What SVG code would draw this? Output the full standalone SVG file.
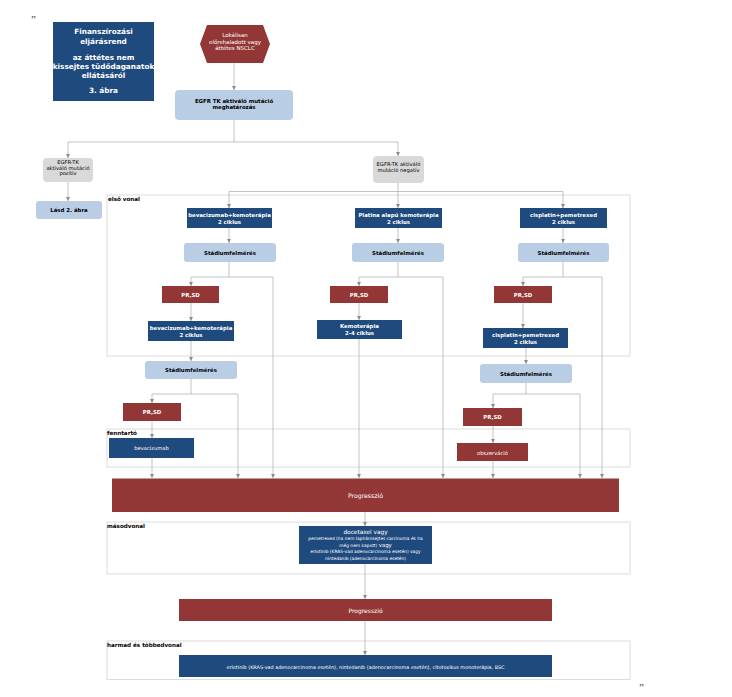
<svg xmlns="http://www.w3.org/2000/svg" width="732" height="697" viewBox="0 0 732 697">
<defs>
<marker id="arr" viewBox="0 0 6 6" refX="6" refY="3" markerWidth="4" markerHeight="4" orient="auto" markerUnits="userSpaceOnUse">
<path d="M0,0 L6,3 L0,6 Z" fill="#8c8c8c"/>
</marker>
<style>
text{font-family:"DejaVu Sans","Verdana",sans-serif;text-anchor:middle}
.frame{fill:none;stroke:#dcdcdc;stroke-width:1}
.con path{fill:none;stroke:#b4b4b4;stroke-width:0.8}
.blue{fill:#1f4a7e}
.red{fill:#923735}
.lb{fill:#b9cde5}
.gr{fill:#d9d9d9}
.w{fill:#ffffff;font-size:5.4px;font-weight:bold}
.k{fill:#000000;font-size:5.4px;font-weight:bold}
.lbl{fill:#000000;font-size:5.6px;font-weight:bold;text-anchor:start}
.t{fill:#ffffff;font-size:7.3px;font-weight:bold}
.wn{fill:#ffffff;font-size:5.2px}
.q{font-family:"Liberation Serif",serif;font-size:11px;fill:#333333;text-anchor:start}
</style>
</defs>
<rect width="732" height="697" fill="#ffffff"/>
<text class="q" x="31" y="23">”</text>
<text class="q" x="639" y="691">”</text>

<g id="frames">
<rect class="frame" x="107" y="195" width="523" height="161"/>
<rect class="frame" x="107" y="429" width="523" height="38"/>
<rect class="frame" x="107" y="522" width="523" height="52"/>
<rect class="frame" x="107" y="641" width="523" height="38.5"/>
<text class="lbl" x="108" y="200.5">első vonal</text>
<text class="lbl" x="107" y="435">fenntartó</text>
<text class="lbl" x="107" y="528">másodvonal</text>
<text class="lbl" x="107" y="647">harmad és többedvonal</text>
</g>

<g id="title">
<rect class="blue" x="53" y="22" width="101" height="79"/>
<text class="t" x="103.5" y="34">Finanszírozási</text>
<text class="t" x="103.5" y="44">eljárásrend</text>
<text class="t" x="103.5" y="60">az áttétes nem</text>
<text class="t" x="103.5" y="69">kissejtes tüdődaganatok</text>
<text class="t" x="103.5" y="78">ellátásáról</text>
<text class="t" x="103.5" y="93">3. ábra</text>
</g>

<g class="con" id="connectors">
<path d="M234,63 V90" marker-end="url(#arr)"/>
<path d="M234,120 V142 M68,142 H398"/>
<path d="M68,142 V158" marker-end="url(#arr)"/>
<path d="M398,142 V156" marker-end="url(#arr)"/>
<path d="M68,182 V201" marker-end="url(#arr)"/>
<path d="M398,183 V208" marker-end="url(#arr)"/>
<path d="M229,191.5 H563"/>
<path d="M229,191.5 V208" marker-end="url(#arr)"/>
<path d="M563,191.5 V208" marker-end="url(#arr)"/>
<path d="M229,228 V243" marker-end="url(#arr)"/>
<path d="M229,262 V277 M191,277 H273"/>
<path d="M191,277 V286" marker-end="url(#arr)"/>
<path d="M273,277 V478" marker-end="url(#arr)"/>
<path d="M191,303 V321" marker-end="url(#arr)"/>
<path d="M191,341 V361" marker-end="url(#arr)"/>
<path d="M191,379 V394 M152,394 H238"/>
<path d="M152,394 V403" marker-end="url(#arr)"/>
<path d="M238,394 V478" marker-end="url(#arr)"/>
<path d="M152,421 V438" marker-end="url(#arr)"/>
<path d="M152,458 V478" marker-end="url(#arr)"/>
<path d="M398,228 V243" marker-end="url(#arr)"/>
<path d="M398,262 V277 M359,277 H443"/>
<path d="M359,277 V286" marker-end="url(#arr)"/>
<path d="M443,277 V478" marker-end="url(#arr)"/>
<path d="M359,303 V320" marker-end="url(#arr)"/>
<path d="M359,339 V478" marker-end="url(#arr)"/>
<path d="M563,228 V243" marker-end="url(#arr)"/>
<path d="M563,262 V277 M523,277 H602"/>
<path d="M523,277 V286" marker-end="url(#arr)"/>
<path d="M602,277 V478" marker-end="url(#arr)"/>
<path d="M523,303 V328" marker-end="url(#arr)"/>
<path d="M526,348 V364" marker-end="url(#arr)"/>
<path d="M526,383 V394 M493,394 H580"/>
<path d="M493,394 V408" marker-end="url(#arr)"/>
<path d="M580,394 V478" marker-end="url(#arr)"/>
<path d="M493,426 V443" marker-end="url(#arr)"/>
<path d="M493,461 V478" marker-end="url(#arr)"/>
<path d="M365,512 V526" marker-end="url(#arr)"/>
<path d="M365,564 V599" marker-end="url(#arr)"/>
<path d="M365,621 V655" marker-end="url(#arr)"/>
</g>

<g id="n-start">
<polygon class="red" points="200,44 207,25 263,25 270,44 263,63 207,63"/>
<text class="wn" x="235" y="37" style="font-size:5.5px">Lokálisan</text>
<text class="wn" x="235" y="43.5" style="font-size:5.5px">előrehaladott vagy</text>
<text class="wn" x="235" y="50" style="font-size:5.5px">áttétes NSCLC</text>
</g>
<g id="n-egfr">
<rect class="lb" x="175" y="90" width="118" height="30" rx="4"/>
<text class="k" x="234" y="102.5">EGFR TK aktiváló mutáció</text>
<text class="k" x="234" y="109">meghatározás</text>
</g>
<g id="n-pos">
<rect class="gr" x="43" y="158" width="50" height="24" rx="4"/>
<text class="k" x="68" y="164" style="font-weight:normal;font-size:5.2px">EGFR-TK</text>
<text class="k" x="68" y="169.5" style="font-weight:normal;font-size:5.2px">aktiváló mutáció</text>
<text class="k" x="68" y="175" style="font-weight:normal;font-size:5.2px">pozitív</text>
</g>
<g id="n-lasd">
<rect class="lb" x="36" y="201" width="66" height="18" rx="3"/>
<text class="k" x="69" y="212">Lásd 2. ábra</text>
</g>
<g id="n-neg">
<rect class="gr" x="373" y="156" width="51" height="27" rx="4"/>
<text class="k" x="398.5" y="166" style="font-weight:normal;font-size:5.2px">EGFR-TK aktiváló</text>
<text class="k" x="398.5" y="172" style="font-weight:normal;font-size:5.2px">mutáció negatív</text>
</g>

<g id="n-c1a">
<rect class="blue" x="187" y="208" width="85" height="20"/>
<text class="w" x="229.5" y="216.5">bevacizumab+kemoterápia</text>
<text class="w" x="229.5" y="223.5">2 ciklus</text>
</g>
<g id="n-c1b">
<rect class="lb" x="184" y="243" width="92" height="19" rx="3"/>
<text class="k" x="230" y="254.5">Stádiumfelmérés</text>
</g>
<g id="n-c1c">
<rect class="red" x="162" y="286" width="57" height="17"/>
<text class="w" x="190.5" y="296.5">PR,SD</text>
</g>
<g id="n-c1d">
<rect class="blue" x="148" y="321" width="86" height="20"/>
<text class="w" x="191" y="329.5">bevacizumab+kemoterápia</text>
<text class="w" x="191" y="336.5">2 ciklus</text>
</g>
<g id="n-c1e">
<rect class="lb" x="145" y="361" width="92" height="18" rx="3"/>
<text class="k" x="191" y="372">Stádiumfelmérés</text>
</g>
<g id="n-c1f">
<rect class="red" x="123" y="403" width="58" height="18"/>
<text class="w" x="152" y="414">PR,SD</text>
</g>
<g id="n-c1g">
<rect class="blue" x="109" y="438" width="85" height="20"/>
<text class="wn" x="151.5" y="450">bevacizumab</text>
</g>

<g id="n-c2a">
<rect class="blue" x="355" y="208" width="87" height="20"/>
<text class="w" x="398.5" y="216.5">Platina alapú kemoterápia</text>
<text class="w" x="398.5" y="223.5">2 ciklus</text>
</g>
<g id="n-c2b">
<rect class="lb" x="352" y="243" width="92" height="19" rx="3"/>
<text class="k" x="398" y="254.5">Stádiumfelmérés</text>
</g>
<g id="n-c2c">
<rect class="red" x="330" y="286" width="58" height="17"/>
<text class="w" x="359" y="296.5">PR,SD</text>
</g>
<g id="n-c2d">
<rect class="blue" x="317" y="320" width="85" height="19"/>
<text class="w" x="359.5" y="328">Kemoterápia</text>
<text class="w" x="359.5" y="335">2-4 ciklus</text>
</g>

<g id="n-c3a">
<rect class="blue" x="520" y="208" width="87" height="20"/>
<text class="w" x="563.5" y="216.5">cisplatin+pemetrexed</text>
<text class="w" x="563.5" y="223.5">2 ciklus</text>
</g>
<g id="n-c3b">
<rect class="lb" x="518" y="243" width="91" height="19" rx="3"/>
<text class="k" x="563.5" y="254.5">Stádiumfelmérés</text>
</g>
<g id="n-c3c">
<rect class="red" x="494" y="286" width="58" height="17"/>
<text class="w" x="523" y="296.5">PR,SD</text>
</g>
<g id="n-c3d">
<rect class="blue" x="483" y="328" width="85" height="20"/>
<text class="w" x="525.5" y="336.5">cisplatin+pemetrexed</text>
<text class="w" x="525.5" y="343.5">2 ciklus</text>
</g>
<g id="n-c3e">
<rect class="lb" x="480" y="364" width="92" height="19" rx="3"/>
<text class="k" x="526" y="375.5">Stádiumfelmérés</text>
</g>
<g id="n-c3f">
<rect class="red" x="463" y="408" width="59" height="18"/>
<text class="w" x="492.5" y="419">PR,SD</text>
</g>
<g id="n-c3g">
<rect class="red" x="457" y="443" width="71" height="18"/>
<text class="wn" x="492.5" y="454.5">obszerváció</text>
</g>

<g id="n-prog1">
<rect class="red" x="112" y="478.5" width="507" height="33.5"/>
<text class="wn" x="365.5" y="497.5" style="font-size:6.2px">Progresszió</text>
</g>
<g id="n-second">
<rect class="blue" x="299" y="526" width="133" height="38"/>
<text class="wn" x="365.5" y="533.5" style="font-size:5.8px">docetaxel vagy</text>
<text class="wn" x="365.5" y="540" style="font-size:4.4px">pemetrexed (ha nem laphámsejtes carcinoma és ha</text>
<text class="wn" x="365.5" y="546.5" style="font-size:4.4px">még nem kapott) <tspan style="font-size:5.4px">vagy</tspan></text>
<text class="wn" x="365.5" y="553.3" style="font-size:4.4px">erlotinib (KRAS-vad adenocarcinoma esetén) vagy</text>
<text class="wn" x="365.5" y="560" style="font-size:4.4px">nintedanib (adenocarcinoma esetén)</text>
</g>
<g id="n-prog2">
<rect class="red" x="179" y="599" width="373" height="22"/>
<text class="wn" x="365.5" y="612.5" style="font-size:6px">Progresszió</text>
</g>
<g id="n-third">
<rect class="blue" x="179" y="655" width="373" height="22"/>
<text class="wn" x="365.5" y="668.5" style="font-size:4.9px">erlotinib (KRAS-vad adenocarcinoma esetén), nintedanib (adenocarcinoma esetén), citotoxikus monoterápia, BSC</text>
</g>
</svg>
